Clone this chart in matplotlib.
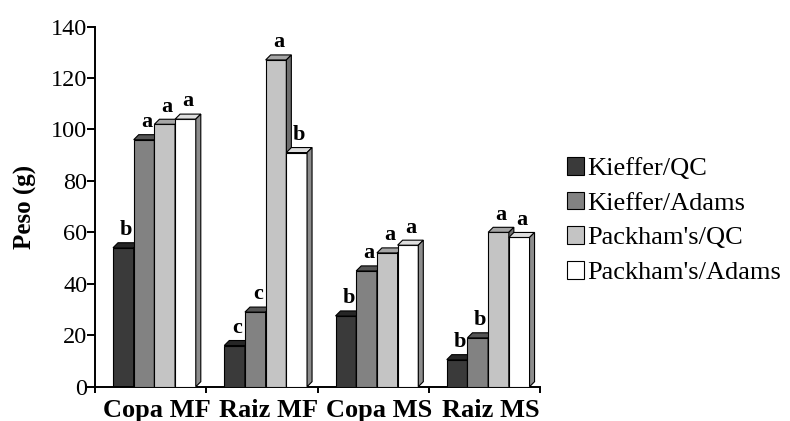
import numpy as np
import matplotlib.pyplot as plt
from matplotlib.patches import Polygon, Patch

# Dados
categorias = ["Copa MF", "Raiz MF", "Copa MS", "Raiz MS"]
series = ["Kieffer/QC", "Kieffer/Adams", "Packham's/QC", "Packham's/Adams"]
kieffer_qc = [54, 16, 27.5, 10.5]
kieffer_adams = [96, 29, 45, 19]
packham_qc = [102, 127, 52, 60]
packham_adams = [104, 91, 55, 58]
letras_kqc = ["b", "c", "b", "b"]
letras_kad = ["a", "c", "a", "b"]
letras_pqc = ["a", "a", "a", "a"]
letras_pad = ["a", "b", "a", "a"]

valores = [kieffer_qc, kieffer_adams, packham_qc, packham_adams]
letras = [letras_kqc, letras_kad, letras_pqc, letras_pad]

# cores: frente, topo, lateral
frente = ['#3a3a3a', '#828282', '#c4c4c4', '#ffffff']
topo = ['#262626', '#555555', '#a6a6a6', '#dedede']
lado = ['#1c1c1c', '#4a4a4a', '#6e6e6e', '#8c8c8c']

plt.rcParams['font.family'] = ['Liberation Serif', 'DejaVu Serif']

fig = plt.figure(figsize=(7.9, 4.21), dpi=100)
ax = fig.add_axes([95/790, 34.3/421, 445/790, 360.2/421])
ax.set_xlim(0, 4)
ax.set_ylim(0, 140)

larg = 0.186      # largura da barra
inicio = 0.162    # deslocamento do grupo dentro da categoria
dx, dy = 0.045, 1.95  # profundidade "3D"

x0 = np.arange(len(categorias))
z = 2
for i in range(len(categorias)):
    for j in range(len(series)):
        x = x0[i] + inicio + j * larg
        v = valores[j][i]
        ax.bar(x, v, width=larg, align='edge', color=frente[j],
               edgecolor='black', linewidth=0.8, zorder=z)
        # face de cima
        ax.add_patch(Polygon([(x, v), (x + dx, v + dy), (x + larg + dx, v + dy), (x + larg, v)],
                             closed=True, facecolor=topo[j], edgecolor='black',
                             linewidth=0.8, zorder=z))
        # face lateral
        ax.add_patch(Polygon([(x + larg, 0), (x + larg + dx, dy), (x + larg + dx, v + dy), (x + larg, v)],
                             closed=True, facecolor=lado[j], edgecolor='black',
                             linewidth=0.8, zorder=z))
        ax.annotate(letras[j][i], xy=(x + larg / 2 + dx / 2, v + dy),
                    xytext=(0, 5.5), textcoords='offset points',
                    ha='center', va='baseline', fontsize=16, fontweight='bold',
                    zorder=z + 1)
        z += 1

# Eixos
for s in ['top', 'right']:
    ax.spines[s].set_visible(False)
for s in ['left', 'bottom']:
    ax.spines[s].set_linewidth(1.4)

ax.set_yticks(np.arange(0, 141, 20))
ax.tick_params(axis='y', labelsize=17.5, length=5.5, width=1.4, pad=0)

# marcas nos limites das categorias, rótulos no centro dos grupos
ax.set_xticks(np.arange(0, 5))
ax.set_xticklabels([])
ax.tick_params(axis='x', which='major', length=4, width=1.4)
centros = x0 + inicio + 2 * larg + dx / 2
ax.set_xticks(centros, minor=True)
ax.set_xticklabels(categorias, minor=True, fontsize=19, fontweight='bold')
ax.tick_params(axis='x', which='minor', length=0, pad=9)

ax.set_ylabel("Peso (g)", fontsize=18, fontweight='bold')
ax.yaxis.set_label_coords(-0.130, 0.5)

handles = [Patch(facecolor=frente[j], edgecolor='black', linewidth=0.8) for j in range(4)]
ax.legend(handles, series, loc='upper left', bbox_to_anchor=(567/790, 1 - 157/421),
          bbox_transform=fig.transFigure, frameon=False, fontsize=19,
          handlelength=0.65, handleheight=0.65, handletextpad=0.1,
          labelspacing=0.44, borderpad=0, borderaxespad=0)

fig.savefig('out.png', dpi=100)
